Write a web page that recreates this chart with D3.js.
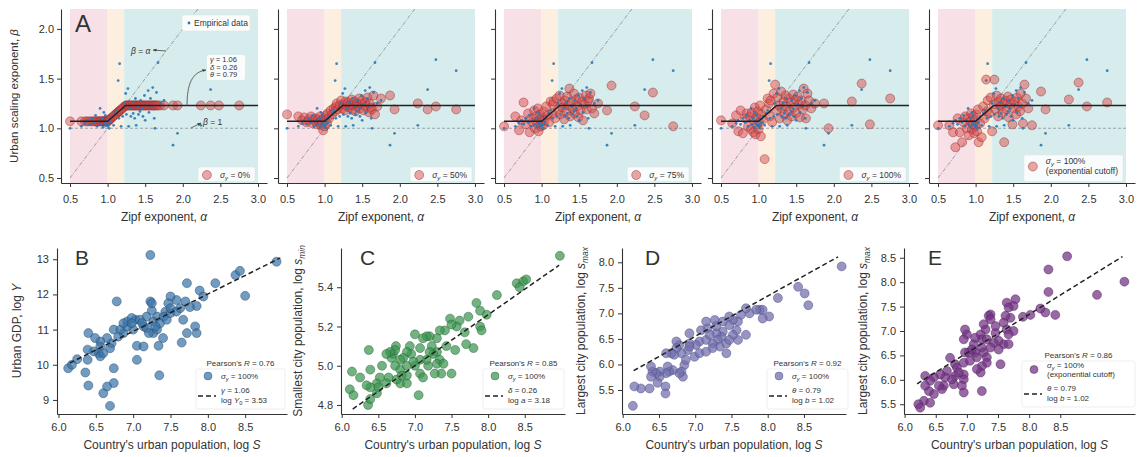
<!DOCTYPE html>
<html>
<head>
<meta charset="utf-8">
<script src="https://cdn.jsdelivr.net/npm/d3@7"></script>
<style>
  body { margin: 0; background: #fff; }
  text { font-family: "Liberation Sans", Arial, sans-serif; fill: #333; }
</style>
</head>
<body>
<div id="fig"></div>
<script>
// ---- top row: Zipf exponent vs urban scaling exponent ----
const alpha = [
  0.50, 0.65, 0.70, 0.73, 0.76, 0.79, 0.82, 0.84, 0.86, 0.88,
  0.90, 0.91, 0.93, 0.94, 0.95, 0.96, 0.97, 0.98, 0.99, 1.00,
  1.01, 1.02, 1.03, 1.04, 1.06, 1.08, 1.10, 1.12, 1.14, 1.15,
  1.16, 1.18, 1.20, 1.22, 1.24, 1.25, 1.27, 1.28, 1.30, 1.31,
  1.33, 1.34, 1.36, 1.37, 1.38, 1.40, 1.41, 1.43, 1.44, 1.46,
  1.47, 1.49, 1.50, 1.52, 1.54, 1.55, 1.57, 1.59, 1.60, 1.62,
  1.63, 1.65, 1.67, 1.70, 1.75, 1.87, 1.93, 2.24, 2.37, 2.48,
  2.75
];
const betaEmp = [
  1.00, 1.02, 1.05, 1.08, 1.04, 1.10, 1.06, 1.13, 1.02, 1.08,
  1.20, 1.04, 1.10, 1.01, 1.16, 1.05, 1.13, 1.03, 1.07, 1.02,
  1.04, 1.00, 1.09, 1.06, 1.12, 1.03, 1.15, 1.18, 1.48, 1.10,
  1.65, 1.02, 1.12, 1.25, 1.35, 1.14, 1.40, 1.02, 1.20, 1.12,
  1.26, 1.15, 1.10, 1.30, 1.03, 1.22, 1.14, 1.17, 1.28, 1.20,
  1.12, 1.33, 1.08, 1.24, 1.38, 1.16, 1.30, 1.22, 1.41, 1.10,
  1.00, 1.36, 1.66, 1.25, 1.28, 0.83, 0.95, 1.03, 1.39, 1.69,
  1.58
];
const beta0 = [
  1.07, 1.07, 1.07, 1.07, 1.07, 1.07, 1.07, 1.07, 1.07, 1.07,
  1.07, 1.07, 1.07, 1.07, 1.07, 1.07, 1.07, 1.07, 1.07, 1.07,
  1.077, 1.083, 1.09, 1.097, 1.11, 1.123, 1.137, 1.15, 1.163, 1.17,
  1.177, 1.19, 1.203, 1.217, 1.23, 1.23, 1.23, 1.23, 1.23, 1.23,
  1.23, 1.23, 1.23, 1.23, 1.23, 1.23, 1.23, 1.23, 1.23, 1.23,
  1.23, 1.23, 1.23, 1.23, 1.23, 1.23, 1.23, 1.23, 1.23, 1.23,
  1.23, 1.23, 1.23, 1.23, 1.23, 1.23, 1.23, 1.23, 1.23, 1.23,
  1.23
];
const beta50 = [
  1.14, 1.12, 1.08, 1.11, 1.06, 1.09, 1.12, 1.05, 1.08, 1.10,
  1.04, 1.09, 1.06, 1.12, 1.03, 1.08, 1.05, 0.98, 1.10, 1.02,
  1.08, 1.13, 1.05, 1.15, 1.10, 1.18, 1.14, 1.20, 1.17, 1.22,
  1.25, 1.19, 1.23, 1.28, 1.20, 1.24, 1.18, 1.27, 1.22, 1.26,
  1.21, 1.24, 1.29, 1.19, 1.23, 1.27, 1.17, 1.25, 1.22, 1.30,
  1.20, 1.24, 1.28, 1.18, 1.26, 1.22, 1.31, 1.16, 1.25, 1.21,
  1.19, 1.33, 1.14, 1.22, 1.30, 1.33, 1.19, 1.25, 1.19, 1.22,
  1.19
];
const beta75 = [
  1.02, 1.12, 0.98, 1.08, 1.26, 1.04, 1.15, 0.96, 1.10, 1.06,
  1.18, 1.00, 1.12, 1.05, 1.20, 0.97, 1.09, 1.14, 1.02, 1.07,
  1.11, 1.03, 1.17, 1.08, 1.22, 1.13, 1.06, 1.27, 1.15, 1.24,
  1.27, 1.10, 1.30, 1.19, 1.33, 1.14, 1.25, 1.21, 1.09, 1.28,
  1.17, 1.32, 1.23, 1.40, 1.12, 1.26, 1.20, 1.35, 1.15, 1.29,
  1.22, 1.11, 1.31, 1.18, 1.27, 1.08, 1.24, 1.33, 1.19, 1.28,
  1.30, 1.35, 1.20, 1.15, 1.25, 1.18, 1.43, 1.22, 1.13, 1.36,
  1.02
];
const beta100 = [
  1.08, 1.05, 1.13, 0.97, 1.18, 0.95, 1.10, 1.15, 1.02, 1.12,
  0.99, 1.16, 0.96, 1.08, 1.21, 0.94, 1.11, 1.04, 1.17, 0.99,
  1.06, 1.23, 0.92, 1.14, 1.09, 0.69, 1.19, 1.30, 1.25, 1.12,
  1.28, 1.06, 1.35, 1.44, 1.18, 1.31, 1.23, 1.10, 1.37, 1.20,
  1.27, 1.14, 1.33, 1.22, 1.08, 1.30, 1.17, 1.26, 1.12, 1.34,
  1.21, 1.29, 1.15, 1.32, 1.24, 1.11, 1.28, 1.19, 1.40, 1.23,
  1.10, 1.35, 1.28, 1.20, 1.25, 1.25, 1.00, 1.27, 1.45, 1.04,
  1.30
];
const betaExp = [
  1.03, 1.03, 0.96, 0.81, 1.10, 0.96, 0.86, 1.06, 1.12, 1.00,
  1.10, 0.93, 1.07, 1.15, 0.99, 1.04, 1.12, 0.95, 1.08, 1.02,
  1.14, 0.97, 1.19, 0.86, 1.05, 0.91, 1.22, 1.10, 1.49, 1.17,
  1.28, 1.15, 1.31, 0.97, 1.24, 1.49, 1.19, 1.33, 1.12, 1.27,
  1.22, 1.30, 1.16, 1.25, 0.86, 1.28, 1.19, 1.32, 1.11, 1.24,
  1.29, 1.04, 1.20, 1.27, 1.14, 1.31, 1.22, 1.17, 1.35, 1.25,
  1.05, 1.44, 1.30, 1.20, 1.03, 1.37, 1.19, 1.29, 1.46, 1.22,
  1.26
];
const modelAlpha = [0.5, 1.0, 1.24, 3.0];
const modelBeta = [1.07, 1.07, 1.23, 1.23];
const regimeEdges = [0.5, 1.0, 1.22, 3.0];
const regimeColors = ["#f8e1e6", "#fcefe0", "#d7ecec"];
const alphaTicks = [0.5, 1.0, 1.5, 2.0, 2.5, 3.0];
const betaTicks = [0.5, 1.0, 1.5, 2.0];
const sigmaLabels = [["0%"], ["50%"], ["75%"], ["100%"], ["100%", "(exponential cutoff)"]];

// ---- bottom row: country urban population vs indicators ----
const gdpPoints = [
  [8.92,12.93],[8.37,12.55],[8.43,12.67],[8.50,11.96],[8.10,12.32],[7.72,12.32],[7.89,12.11],[7.94,11.94],
  [7.85,11.67],[7.76,11.64],[7.70,11.80],[7.58,11.84],[7.50,11.94],[7.47,11.75],[7.43,11.51],[7.32,11.37],
  [7.27,11.23],[7.18,11.37],[7.25,11.54],[7.23,11.80],[7.23,13.12],[6.78,11.80],[7.67,11.28],[7.72,10.90],
  [7.83,11.09],[7.85,10.90],[7.65,10.63],[7.40,10.76],[7.34,10.54],[7.35,9.70],[7.05,10.54],[7.05,10.14],
  [7.14,10.52],[7.03,11.28],[7.00,11.00],[6.92,11.23],[6.87,10.90],[6.98,11.33],[7.09,11.28],[7.14,11.09],
  [7.18,11.04],[6.80,10.80],[6.74,11.00],[6.71,10.61],[6.69,10.47],[6.65,10.76],[6.56,10.66],[6.56,10.52],
  [6.54,10.33],[6.47,10.38],[6.40,10.90],[6.49,10.76],[6.39,10.43],[6.39,10.14],[6.36,9.78],[6.40,9.41],
  [6.13,9.90],[6.18,10.00],[6.25,10.16],[6.74,9.90],[6.74,9.48],[6.65,9.38],[6.60,9.19],[6.69,8.83],
  [6.56,10.24],[6.60,10.33],[6.83,11.00],[6.92,11.09],[6.98,11.18],[7.27,10.90],[7.32,11.00],[7.36,11.18],
  [7.41,11.37],[7.45,11.28],[7.50,11.47],[7.50,11.61],[7.58,11.51],[7.63,11.61],[7.30,11.09],[7.21,10.90],
  [7.12,11.18],[6.87,11.18],[7.25,11.75]
];
const sminPoints = [
  [8.98,5.56],[8.39,5.42],[8.48,5.43],[8.52,5.44],[8.43,5.40],[8.12,5.36],[7.84,5.32],[7.98,5.26],
  [7.89,5.28],[7.89,5.20],[7.91,5.18],[7.73,5.25],[7.61,5.23],[7.57,5.20],[7.48,5.24],[7.50,5.21],
  [7.41,5.18],[7.68,5.17],[7.70,5.11],[7.80,5.09],[7.55,5.08],[7.50,4.96],[7.34,5.18],[7.30,5.14],
  [7.20,5.15],[7.16,5.15],[7.11,5.14],[7.23,5.10],[7.30,5.07],[7.25,5.06],[7.34,5.03],[7.30,5.01],
  [7.39,5.01],[7.36,4.96],[7.27,4.96],[7.18,5.00],[7.16,5.03],[7.07,5.09],[7.00,5.16],[7.07,5.03],
  [7.07,4.96],[7.11,4.94],[7.05,4.85],[7.00,5.00],[6.95,5.06],[6.93,5.10],[6.89,5.07],[6.84,5.04],
  [6.80,5.03],[6.74,5.10],[6.70,5.06],[6.73,5.08],[6.68,5.04],[6.73,5.00],[6.80,4.98],[6.80,4.91],
  [6.75,4.93],[6.89,4.91],[6.82,4.95],[6.89,4.95],[6.64,4.94],[6.61,4.91],[6.52,4.94],[6.55,5.00],
  [6.48,4.91],[6.48,4.86],[6.50,4.89],[6.39,4.98],[6.37,5.08],[6.39,4.89],[6.36,4.80],[6.39,4.83],
  [6.34,4.90],[6.14,4.97],[6.25,4.94],[6.11,4.88],[6.16,4.85],[6.66,5.07],[6.61,5.06],[7.20,5.07],
  [7.43,5.10],[6.89,5.00],[6.98,5.02]
];
const smaxPoints = [
  [9.02,7.92],[8.42,7.52],[8.51,7.39],[8.56,7.16],[8.14,7.30],[8.02,6.94],[7.93,6.90],[7.89,7.07],
  [7.93,7.07],[7.84,7.07],[7.75,7.00],[7.70,7.10],[7.63,6.97],[7.59,6.84],[7.52,6.87],[7.47,6.77],
  [7.47,6.94],[7.57,6.67],[7.70,6.58],[7.59,6.48],[7.43,6.22],[7.38,6.64],[7.36,6.54],[7.29,6.61],
  [7.31,6.48],[7.34,6.35],[7.24,6.41],[7.24,6.32],[7.17,6.71],[7.27,6.87],[7.15,6.84],[7.08,6.67],
  [7.06,6.45],[7.01,6.38],[6.99,6.15],[7.06,6.22],[6.92,6.41],[6.90,6.28],[6.81,6.22],[6.78,6.38],
  [6.74,6.45],[6.74,6.32],[6.71,6.19],[6.67,6.22],[6.85,5.99],[6.81,5.86],[6.83,5.76],[6.78,5.83],
  [6.69,5.89],[6.64,5.86],[6.62,5.96],[6.60,6.22],[6.60,5.83],[6.59,5.57],[6.59,5.43],[6.51,5.86],
  [6.51,5.76],[6.46,5.83],[6.48,5.64],[6.41,5.86],[6.39,5.96],[6.39,5.76],[6.37,5.53],[6.25,5.53],
  [6.16,5.57],[6.14,5.19],[6.92,6.61],[6.92,6.35],[6.87,6.09],[7.15,6.48],[7.20,6.58],[7.43,6.41],
  [7.52,6.58],[7.47,6.48],[7.15,6.25],[7.38,6.84],[7.29,6.75]
];
const smaxExpPoints = [
  [9.53,8.01],[8.61,8.53],[8.31,8.26],[8.31,7.80],[9.09,7.74],[8.42,7.33],[8.26,7.38],[8.18,7.46],
  [8.02,7.33],[7.90,7.29],[7.78,7.65],[7.75,7.51],[7.64,7.58],[7.67,7.48],[7.70,7.27],[7.62,7.31],
  [7.59,7.17],[7.64,7.03],[7.75,7.00],[7.67,6.93],[7.59,6.73],[7.67,6.73],[7.51,6.80],[7.54,6.32],
  [7.46,6.96],[7.46,7.10],[7.38,7.34],[7.35,7.31],[7.38,7.24],[7.30,7.03],[7.27,7.14],[7.22,6.93],
  [7.24,6.83],[7.32,6.83],[7.24,6.66],[7.27,6.56],[7.32,6.46],[7.32,6.35],[7.24,6.28],[7.22,6.15],
  [7.24,5.77],[7.13,6.56],[7.16,6.46],[7.11,6.73],[7.13,6.86],[7.08,6.62],[7.03,6.56],[7.00,6.93],
  [6.97,7.03],[6.95,6.83],[6.97,6.56],[6.95,6.35],[6.95,6.11],[6.95,6.01],[6.92,5.88],[6.95,5.74],
  [6.81,6.32],[6.81,6.08],[6.79,5.91],[6.76,6.01],[6.73,6.45],[6.68,6.18],[6.65,6.05],[6.63,5.88],
  [6.57,6.11],[6.60,5.81],[6.55,5.88],[6.47,6.05],[6.47,5.71],[6.41,5.98],[6.39,5.77],[6.33,5.88],
  [6.33,6.08],[6.31,5.57],[6.41,5.53],[6.22,5.50],[6.25,5.43],[6.84,6.25],[6.87,6.15],[7.05,6.39],
  [7.16,6.22],[7.43,6.76],[7.38,6.66],[7.51,6.62]
];
const popTicks = [6.0, 6.5, 7.0, 7.5, 8.0, 8.5];
const gdpTicks = [9, 10, 11, 12, 13];
const sminTicks = [4.8, 5.0, 5.2, 5.4];
const smaxTicks = [5.5, 6.0, 6.5, 7.0, 7.5, 8.0];
const smaxExpTicks = [5.5, 6.0, 6.5, 7.0, 7.5, 8.0, 8.5];
const pearsonR = [0.76, 0.85, 0.92, 0.86];
const fitSlope = [1.06, 0.26, 0.79, 0.79];
const fitIntercept = [3.53, 3.18, 1.02, 1.02];
const fitRange = [[6.15, 8.97], [6.15, 8.97], [6.15, 8.97], [6.2, 9.5]];

const svg = d3.select("#fig").append("svg").attr("width", 1144).attr("height", 457);

svg.append("defs").append("marker")
  .attr("id", "ah").attr("viewBox", "0 0 10 10")
  .attr("refX", 9).attr("refY", 5)
  .attr("markerWidth", 5).attr("markerHeight", 5)
  .attr("orient", "auto")
  .append("path").attr("d", "M0,1L10,5L0,9z").attr("fill", "#444");

// rich text: segments of [text, style] where style has i (italic) and/or s (subscript)
function rich(sel, segs, fs) {
  let sub = false;
  segs.forEach(function(s) {
    var st = s[1] || "";
    var t = sel.append("tspan").text(s[0]);
    if (st.includes("i")) t.attr("font-style", "italic");
    var isSub = st.includes("s");
    if (isSub) t.attr("font-size", fs * 0.7);
    if (isSub !== sub) t.attr("dy", isSub ? fs * 0.28 : -fs * 0.28);
    sub = isSub;
  });
  return sel;
}

function styleAxis(g) {
  g.select(".domain").attr("stroke", "#333").attr("stroke-width", 1.1);
  g.selectAll(".tick line").attr("stroke", "#333");
  g.selectAll(".tick text").attr("fill", "#333").style("font-size", "11px")
    .style("font-family", '"Liberation Sans", Arial, sans-serif');
}

// ================= top row =================
const topBetas = [beta0, beta50, beta75, beta100, betaExp];

topBetas.forEach(function(betas, i) {
  var L = 61 + 217 * i;
  var x = d3.scaleLinear().domain([0.38, 3.12]).range([L, L + 206]);
  var y = d3.scaleLinear().domain([0.45, 2.2]).range([183, 9]);
  var g = svg.append("g");

  // regime shading
  regimeColors.forEach(function(c, k) {
    g.append("rect")
      .attr("x", x(regimeEdges[k])).attr("y", y(2.2))
      .attr("width", x(regimeEdges[k + 1]) - x(regimeEdges[k]))
      .attr("height", y(0.45) - y(2.2))
      .attr("fill", c);
  });

  // beta = 1 and beta = alpha
  g.append("line")
    .attr("x1", x(0.5)).attr("x2", x(3.0)).attr("y1", y(1)).attr("y2", y(1))
    .attr("stroke", "#9aa3a8").attr("stroke-width", 1.1).attr("stroke-dasharray", "3,2");
  g.append("line")
    .attr("x1", x(0.5)).attr("y1", y(0.5)).attr("x2", x(2.2)).attr("y2", y(2.2))
    .attr("stroke", "#7f8a90").attr("stroke-width", 0.8).attr("stroke-dasharray", "4,1.5,1,1.5");

  // simulated (red)
  g.append("g").selectAll("circle")
    .data(alpha.map(function(a, k) { return [a, betas[k]]; }))
    .enter().append("circle")
    .attr("cx", function(d) { return x(d[0]); })
    .attr("cy", function(d) { return y(d[1]); })
    .attr("r", 4.5)
    .attr("fill", "rgba(214,78,78,0.5)")
    .attr("stroke", "rgba(150,40,40,0.55)")
    .attr("stroke-width", 0.8);

  // empirical (blue)
  g.append("g").selectAll("circle")
    .data(alpha.map(function(a, k) { return [a, betaEmp[k]]; }))
    .enter().append("circle")
    .attr("cx", function(d) { return x(d[0]); })
    .attr("cy", function(d) { return y(d[1]); })
    .attr("r", 1.4)
    .attr("fill", "#2c78b4")
    .attr("opacity", 0.9);

  // model
  g.append("path")
    .datum(modelAlpha.map(function(a, k) { return [a, modelBeta[k]]; }))
    .attr("d", d3.line().x(function(d) { return x(d[0]); }).y(function(d) { return y(d[1]); }))
    .attr("fill", "none").attr("stroke", "#222").attr("stroke-width", 1.5);

  // axes
  var xa = g.append("g").attr("transform", "translate(0,183)")
    .call(d3.axisBottom(x).tickValues(alphaTicks).tickSize(4).tickSizeOuter(0).tickPadding(8)
      .tickFormat(d3.format(".1f")));
  styleAxis(xa);
  var ya = g.append("g").attr("transform", "translate(" + L + ",0)")
    .call(d3.axisLeft(y).tickValues(betaTicks).tickSize(4).tickSizeOuter(0).tickPadding(3)
      .tickFormat(i === 0 ? d3.format(".1f") : function() { return ""; }));
  styleAxis(ya);

  rich(g.append("text").attr("x", L + 103).attr("y", 221).attr("text-anchor", "middle")
    .style("font-size", "12px"), [["Zipf exponent, "], ["α", "i"]], 12);

  // sigma legend
  var lines = sigmaLabels[i];
  var lg = g.append("g");
  var box = lg.append("rect").attr("fill", "rgba(255,255,255,0.85)").attr("stroke", "#e4e4e4")
    .attr("stroke-width", 0.6).attr("rx", 2);
  var tx = lg.append("text").attr("y", lines.length === 1 ? 178 : 164).style("font-size", "8.5px");
  rich(tx, [["σ", "i"], ["y", "is"], [" = " + lines[0]]], 8.5);
  var widest = tx.node().getComputedTextLength();
  if (lines.length > 1) {
    var t2 = lg.append("text").attr("y", 174).style("font-size", "8.5px").text(lines[1]);
    widest = Math.max(widest, t2.node().getComputedTextLength());
  }
  var right = L + 194;
  var textX = right - 5 - widest;
  lg.selectAll("text").attr("x", textX);
  var cy = lines.length === 1 ? 175 : 166.5;
  lg.append("circle").attr("cx", textX - 13).attr("cy", cy).attr("r", 4.5)
    .attr("fill", "rgba(214,78,78,0.5)").attr("stroke", "rgba(150,40,40,0.55)").attr("stroke-width", 0.8);
  var top = lines.length === 1 ? 167 : 155;
  box.attr("x", textX - 22).attr("y", top).attr("width", right - textX + 22).attr("height", 181.5 - top);

  if (i === 0) {
    // empirical legend
    g.append("rect").attr("x", 182).attr("y", 15).attr("width", 68).attr("height", 16)
      .attr("fill", "rgba(255,255,255,0.9)").attr("stroke", "#e4e4e4").attr("stroke-width", 0.6).attr("rx", 2);
    g.append("circle").attr("cx", 189).attr("cy", 23).attr("r", 1.4).attr("fill", "#2c78b4");
    g.append("text").attr("x", 194).attr("y", 26).style("font-size", "8.5px").text("Empirical data");

    g.append("text").attr("x", 75).attr("y", 32).style("font-size", "24px").text("A");

    // beta = alpha annotation
    rich(g.append("text").attr("x", 131).attr("y", 54).style("font-size", "8.5px"),
      [["β", "i"], [" = "], ["α", "i"]], 8.5);
    g.append("line").attr("x1", x(1.79) - 1).attr("y1", 51).attr("x2", 153).attr("y2", 50)
      .attr("stroke", "#444").attr("stroke-width", 0.8).attr("marker-end", "url(#ah)");

    // parameter annotation
    g.append("rect").attr("x", 207).attr("y", 55).attr("width", 38).attr("height", 25)
      .attr("fill", "rgba(255,255,255,0.9)").attr("rx", 2);
    [["γ", " = 1.06"], ["δ", " = 0.26"], ["θ", " = 0.79"]].forEach(function(p, k) {
      rich(g.append("text").attr("x", 210).attr("y", 62 + k * 7.5).style("font-size", "7.5px"),
        [[p[0], "i"], [p[1]]], 7.5);
    });
    g.append("path").attr("d", "M187,106 C187,84 192,72 206,70")
      .attr("fill", "none").attr("stroke", "#444").attr("stroke-width", 0.8).attr("marker-end", "url(#ah)");

    // beta = 1 annotation
    rich(g.append("text").attr("x", 203).attr("y", 125).style("font-size", "8.5px"),
      [["β", "i"], [" = 1"]], 8.5);
    g.append("line").attr("x1", 191).attr("y1", 128).attr("x2", 201).attr("y2", 123)
      .attr("stroke", "#444").attr("stroke-width", 0.8).attr("marker-end", "url(#ah)");

    rich(g.append("text").attr("transform", "translate(18,96) rotate(-90)")
      .attr("text-anchor", "middle").style("font-size", "11.5px"),
      [["Urban scaling exponent, "], ["β", "i"]], 11.5);
  }
});

// ================= bottom row =================
const bottomPanels = [
  { letter: "B", pts: gdpPoints, left: 57, right: 287, xd: [5.98, 9.06], yd: [8.6, 13.32],
    yTicks: gdpTicks, yFmt: d3.format("d"), fill: "rgba(58,117,168,0.72)", edge: "rgba(30,65,100,0.6)",
    letterX: 75, ylabX: 21, ylab: [["Urban GDP, log "], ["Y", "i"]],
    boxL: 196, boxR: 285, titleY: 366,
    markLines: [[["σ", "i"], ["y", "is"], [" = 100%"]]],
    fitLines: [[["γ", "i"], [" = 1.06"]], [["log "], ["Y", "i"], ["0", "s"], [" = 3.53"]]] },
  { letter: "C", pts: sminPoints, left: 341, right: 565, xd: [5.99, 9.05], yd: [4.754, 5.60],
    yTicks: sminTicks, yFmt: d3.format(".1f"), fill: "rgba(60,150,80,0.72)", edge: "rgba(30,90,45,0.6)",
    letterX: 360, ylabX: 302, ylab: [["Smallest city population, log "], ["s", "i"], ["min", "is"]],
    boxL: 483, boxR: 564, titleY: 366,
    markLines: [[["σ", "i"], ["y", "is"], [" = 100%"]]],
    fitLines: [[["δ", "i"], [" = 0.26"]], [["log "], ["a", "i"], [" = 3.18"]]] },
  { letter: "D", pts: smaxPoints, left: 622, right: 846, xd: [5.99, 9.08], yd: [5.03, 8.28],
    yTicks: smaxTicks, yFmt: d3.format(".1f"), fill: "rgba(115,113,175,0.75)", edge: "rgba(70,68,120,0.6)",
    letterX: 645, ylabX: 585, ylab: [["Largest city population, log "], ["s", "i"], ["max", "is"]],
    boxL: 767, boxR: 848, titleY: 366,
    markLines: [[["σ", "i"], ["y", "is"], [" = 100%"]]],
    fitLines: [[["θ", "i"], [" = 0.79"]], [["log "], ["b", "i"], [" = 1.02"]]] },
  { letter: "E", pts: smaxExpPoints, left: 904, right: 1135, xd: [5.99, 9.70], yd: [5.3, 8.70],
    yTicks: smaxExpTicks, yFmt: d3.format(".1f"), fill: "rgba(118,55,135,0.75)", edge: "rgba(70,25,85,0.6)",
    letterX: 928, ylabX: 867, ylab: [["Largest city population, log "], ["s", "i"], ["max", "is"]],
    boxL: 1022, boxR: 1135, titleY: 358,
    markLines: [[["σ", "i"], ["y", "is"], [" = 100%"]], [["(exponential cutoff)"]]],
    fitLines: [[["θ", "i"], [" = 0.79"]], [["log "], ["b", "i"], [" = 1.02"]]] }
];

bottomPanels.forEach(function(p, i) {
  var x = d3.scaleLinear().domain(p.xd).range([p.left, p.right]);
  var y = d3.scaleLinear().domain(p.yd).range([414, 248]);
  var g = svg.append("g");

  g.append("g").selectAll("circle").data(p.pts).enter().append("circle")
    .attr("cx", function(d) { return x(d[0]); })
    .attr("cy", function(d) { return y(d[1]); })
    .attr("r", 4.5)
    .attr("fill", p.fill).attr("stroke", p.edge).attr("stroke-width", 0.7);

  var fr = fitRange[i];
  g.append("line")
    .attr("x1", x(fr[0])).attr("y1", y(fitIntercept[i] + fitSlope[i] * fr[0]))
    .attr("x2", x(fr[1])).attr("y2", y(fitIntercept[i] + fitSlope[i] * fr[1]))
    .attr("stroke", "#222").attr("stroke-width", 1.5).attr("stroke-dasharray", "5,3");

  var xa = g.append("g").attr("transform", "translate(0,414)")
    .call(d3.axisBottom(x).tickValues(popTicks).tickSize(4).tickSizeOuter(0).tickPadding(5)
      .tickFormat(d3.format(".1f")));
  styleAxis(xa);
  var ya = g.append("g").attr("transform", "translate(" + p.left + ",0)")
    .call(d3.axisLeft(y).tickValues(p.yTicks).tickSize(4).tickSizeOuter(0).tickPadding(4)
      .tickFormat(p.yFmt));
  styleAxis(ya);

  g.append("text").attr("x", p.letterX).attr("y", 265).style("font-size", "21px").text(p.letter);

  rich(g.append("text").attr("x", (p.left + p.right) / 2).attr("y", 449).attr("text-anchor", "middle")
    .style("font-size", "12px"), [["Country's urban population, log "], ["S", "i"]], 12);
  rich(g.append("text").attr("transform", "translate(" + p.ylabX + ",331) rotate(-90)")
    .attr("text-anchor", "middle").style("font-size", "12px"), p.ylab, 12);

  // legend
  var fs = 8;
  var cxm = (p.boxL + p.boxR) / 2;
  var nm = p.markLines.length;
  var markY0 = p.titleY + (nm === 1 ? 13 : 10);
  var markLast = markY0 + (nm - 1) * 9;
  var fitY0 = markLast + 14;
  var boxBottom = fitY0 + 16;
  g.append("rect").attr("x", p.boxL).attr("y", p.titleY + 3)
    .attr("width", p.boxR - p.boxL).attr("height", boxBottom - p.titleY - 3)
    .attr("fill", "rgba(255,255,255,0.85)").attr("stroke", "#e2e2e2").attr("stroke-width", 0.6).attr("rx", 2);
  rich(g.append("text").attr("x", cxm).attr("y", p.titleY).attr("text-anchor", "middle")
    .style("font-size", fs + "px"), [["Pearson's "], ["R", "i"], [" = " + pearsonR[i].toFixed(2)]], fs);
  p.markLines.forEach(function(segs, k) {
    rich(g.append("text").attr("x", p.boxL + 25).attr("y", markY0 + k * 9).style("font-size", fs + "px"), segs, fs);
  });
  g.append("circle").attr("cx", p.boxL + 12).attr("cy", (markY0 + markLast) / 2 - 3).attr("r", 4)
    .attr("fill", p.fill).attr("stroke", p.edge).attr("stroke-width", 0.7);
  p.fitLines.forEach(function(segs, k) {
    rich(g.append("text").attr("x", p.boxL + 25).attr("y", fitY0 + k * 10).style("font-size", fs + "px"), segs, fs);
  });
  g.append("line").attr("x1", p.boxL + 2).attr("x2", p.boxL + 20)
    .attr("y1", fitY0 + 3).attr("y2", fitY0 + 3)
    .attr("stroke", "#222").attr("stroke-width", 1.5).attr("stroke-dasharray", "5,3");
});
</script>
</body>
</html>
